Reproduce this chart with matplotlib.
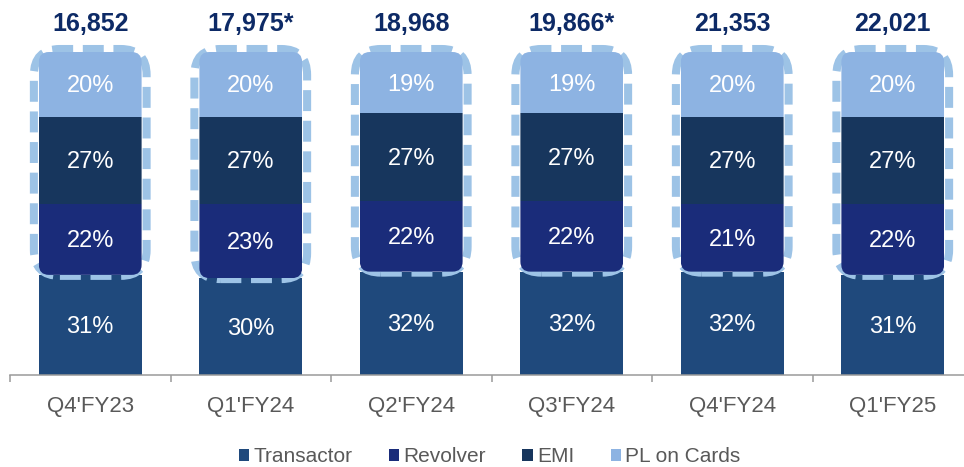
import numpy as np
import matplotlib.pyplot as plt
from matplotlib.patches import FancyBboxPatch, Patch

plt.rcParams["font.family"] = ["Liberation Sans", "DejaVu Sans"]

# data (share of card book, %), bottom to top
quarters = ["Q4'FY23", "Q1'FY24", "Q2'FY24", "Q3'FY24", "Q4'FY24", "Q1'FY25"]
totals = ["16,852", "17,975*", "18,968", "19,866*", "21,353", "22,021"]
transactor = [31, 30, 32, 32, 32, 31]
revolver = [22, 23, 22, 22, 21, 22]
emi = [27, 27, 27, 27, 27, 27]
pl_on_cards = [20, 20, 19, 19, 20, 20]

series_names = ["Transactor", "Revolver", "EMI", "PL on Cards"]
colors = ["#1F497C", "#1A2C7A", "#17365D", "#8DB3E2"]
box_color = "#9DC3E6"
total_color = "#0D2A66"
gray = "#595959"

fig = plt.figure(figsize=(9.64, 4.67), dpi=100)
# pixel layout: axis line at y=375, bars top at y=52, x from 10 to 973
ax = fig.add_axes([10 / 964, 92 / 467, 963 / 964, 323 / 467])
ax.set_xlim(-0.5, 5.5)
ax.set_ylim(0, 100)

x = np.arange(len(quarters))
width = 0.64
px_x = 963 / 6.0   # pixels per x unit
px_y = 323 / 100.0  # pixels per y unit
aspect = px_x / px_y

# transactor at the bottom, plain rectangles
ax.bar(x, transactor, width, color=colors[0], linewidth=0, zorder=1)

bottom = np.array(transactor, dtype=float)
upper = [revolver, emi, pl_on_cards]
upper_bars = []
for vals, col in zip(upper, colors[1:]):
    bars = ax.bar(x, vals, width, bottom=bottom, color=col, linewidth=0, zorder=3)
    upper_bars.append(bars)
    bottom += np.array(vals)

# round the top three segments as one block, and draw the dashed box round them
for i in range(len(x)):
    base = transactor[i]
    clip = FancyBboxPatch((x[i] - width / 2, base), width, 100 - base,
                          boxstyle="round,pad=0,rounding_size=%f" % (10 / px_x),
                          mutation_aspect=aspect, transform=ax.transData)
    for bars in upper_bars:
        bars[i].set_clip_path(clip)

    pad_x = 5 / px_x
    box = FancyBboxPatch((x[i] - width / 2 - pad_x, base - 1 / px_y),
                         width + 2 * pad_x, 100 - base + 4 / px_y,
                         boxstyle="round,pad=0,rounding_size=%f" % (26 / px_x),
                         mutation_aspect=aspect, fill=False,
                         edgecolor=box_color, linewidth=5.8,
                         linestyle=(0, (2.6, 1.2)), zorder=2, clip_on=False)
    ax.add_patch(box)

# percentage labels
all_series = [transactor, revolver, emi, pl_on_cards]
for i in range(len(x)):
    b = 0
    for vals in all_series:
        ax.text(x[i], b + vals[i] / 2 - 2 / px_y, "%d%%" % vals[i], ha="center",
                va="center", color="white", fontsize=17, zorder=5)
        b += vals[i]
    ax.text(x[i], 100 + 28 / px_y, totals[i], ha="center", va="center",
            color=total_color, fontsize=18, fontweight="bold", clip_on=False)

# axes styling
for side in ["top", "right", "left"]:
    ax.spines[side].set_visible(False)
ax.spines["bottom"].set_color("#9A9A9A")
ax.spines["bottom"].set_linewidth(1.1)
ax.set_yticks([])
ax.set_xticks(x)
ax.set_xticklabels(quarters)
ax.set_xticks(np.arange(-0.5, 6, 1), minor=True)
ax.tick_params(axis="x", which="major", length=0, pad=15, labelsize=16, labelcolor=gray)
ax.tick_params(axis="x", which="minor", length=5, width=1.1, color="#9A9A9A", direction="out")

handles = [Patch(facecolor=c, edgecolor="none") for c in colors]
fig.legend(handles, series_names, loc="center", bbox_to_anchor=(0.508, 0.022),
           ncol=4, frameon=False, fontsize=15, labelcolor=gray,
           handlelength=0.5, handleheight=0.5, handletextpad=0.2, columnspacing=1.75)

fig.savefig("out.png", dpi=100)
